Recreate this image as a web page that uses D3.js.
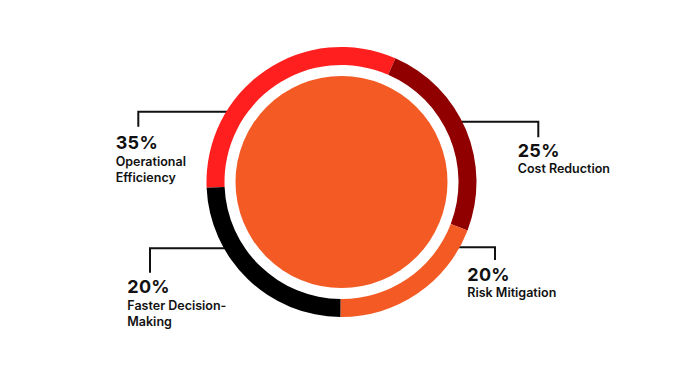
<!DOCTYPE html>
<html>
<head>
<meta charset="utf-8">
<script src="https://cdn.jsdelivr.net/npm/d3@7"></script>
<style>
  body { margin: 0; background: #fff; }
  svg { display: block; font-family: Inter, "Noto Sans", sans-serif; }
</style>
</head>
<body>
<svg id="chart" width="695" height="375"></svg>
<script>
// categories in clockwise order, starting at the left of the ring
const categories = ["Operational Efficiency", "Cost Reduction", "Risk Mitigation", "Faster Decision-Making"];
const labelLines = [["Operational", "Efficiency"], ["Cost Reduction"], ["Risk Mitigation"], ["Faster Decision-", "Making"]];
const percentLabels = ["35%", "25%", "20%", "20%"];
// share of the ring each arc takes, as drawn
const ringShare = [32.2, 24.3, 19.3, 24.2];
const colors = ["#ff1f1f", "#900000", "#f35a24", "#000000"];

const cx = 341.5, cy = 182;
const outerR = 135, innerR = 117, coreR = 106;
const startDeg = -92.4;

// label layout (leader y, elbow x, drop end, text x, percent baseline)
const layout = [
  { y: 111.7, elbow: 138.3, drop: 126.7, tx: 115.7, base: 149.3, side: -1 },
  { y: 121.7, elbow: 538.3, drop: 137.3, tx: 517.7, base: 156.7, side: 1 },
  { y: 247.3, elbow: 495, drop: 260, tx: 467.3, base: 280.7, side: 1 },
  { y: 248.3, elbow: 150, drop: 272.7, tx: 127.3, base: 293.3, side: -1 }
];

const svg = d3.select("#chart");

const pie = d3.pie()
  .sort(null)
  .value(d => d)
  .startAngle(startDeg * Math.PI / 180)
  .endAngle((startDeg + 360) * Math.PI / 180);

const arc = d3.arc().innerRadius(innerR).outerRadius(outerR);
const arcs = pie(ringShare);

// leader lines, drawn below the ring
const leaders = svg.append("g").attr("fill", "none").attr("stroke", "#111").attr("stroke-width", 2);
layout.forEach(l => {
  const dy = l.y - cy;
  const ringX = cx + l.side * Math.sqrt((outerR - 3) ** 2 - dy * dy);
  leaders.append("path")
    .attr("d", `M${ringX},${l.y}H${l.elbow}V${l.drop}`);
});

const g = svg.append("g").attr("transform", `translate(${cx},${cy})`);

g.selectAll("path.seg")
  .data(arcs)
  .join("path")
  .attr("class", "seg")
  .attr("d", arc)
  .attr("fill", (d, i) => colors[i]);

g.append("circle")
  .attr("r", coreR)
  .attr("fill", "#f35a24");

// labels
const labels = svg.append("g").attr("fill", "#111");
categories.forEach((c, i) => {
  const l = layout[i];
  labels.append("text")
    .attr("x", l.tx)
    .attr("y", l.base)
    .attr("font-size", 18)
    .attr("font-weight", 700)
    .attr("letter-spacing", 0.3)
    .text(percentLabels[i]);
  labelLines[i].forEach((line, j) => {
    labels.append("text")
      .attr("x", l.tx)
      .attr("y", l.base + 16.5 + j * 16.6)
      .attr("font-size", 12.5)
      .attr("font-weight", 600)
      .text(line);
  });
});
</script>
</body>
</html>
